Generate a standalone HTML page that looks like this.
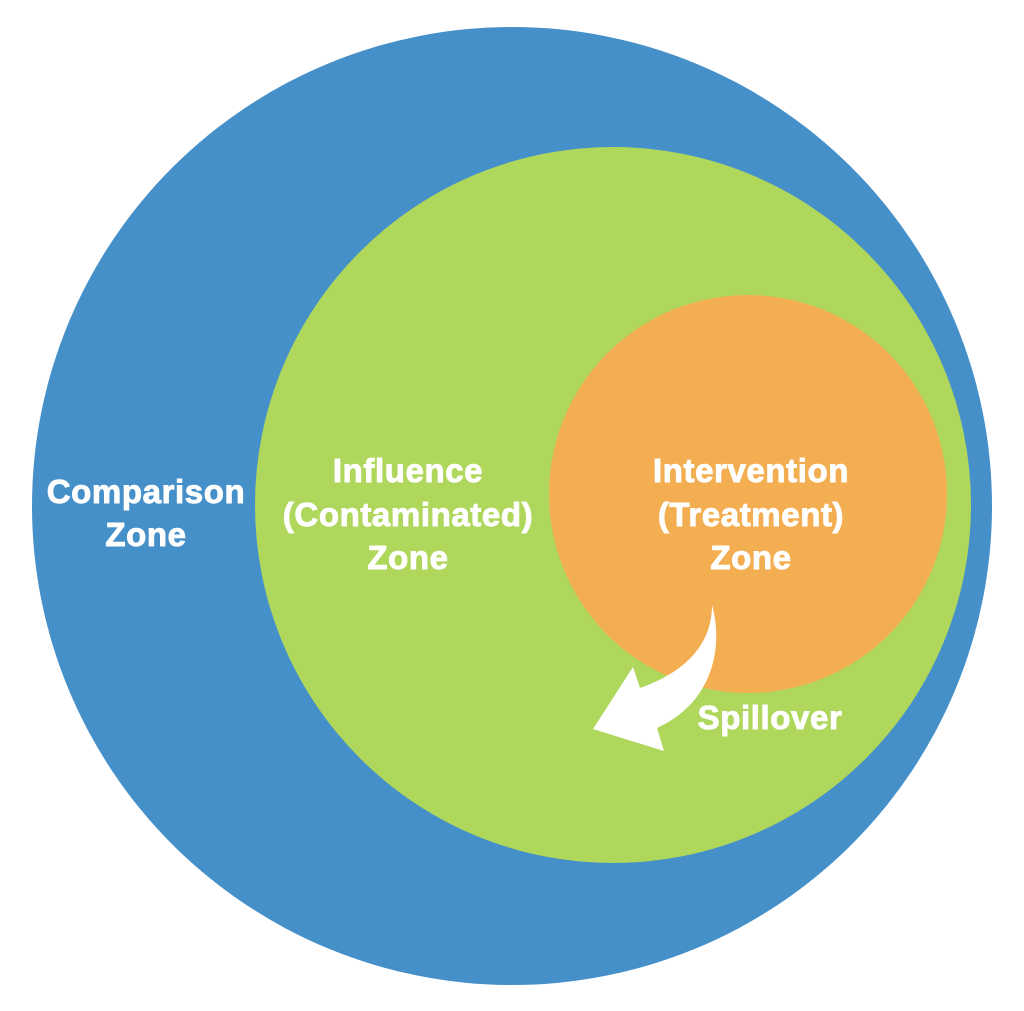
<!DOCTYPE html>
<html><head><meta charset="utf-8"><style>
html,body{margin:0;padding:0;background:#fff;}
svg{display:block;}
text{font-family:"Liberation Sans",sans-serif;font-weight:bold;fill:#fff;stroke:#fff;stroke-width:0.9px;font-size:33px;text-anchor:middle;letter-spacing:0.6px;}
</style></head><body>
<svg width="1024" height="1011" viewBox="0 0 1024 1011">
<rect width="1024" height="1011" fill="#fff"/>
<ellipse cx="512" cy="506" rx="480" ry="479" fill="#4690ca"/>
<ellipse cx="613" cy="505" rx="358" ry="358" fill="#afd75c"/>
<circle cx="748" cy="494" r="199" fill="#f4ae52"/>
<path d="M712,605 C722,640 718,700 657,728 L664,751 L593,729 L633,667 L640,688 C685,672 712,645 712,605 Z" fill="#fff"/>
<text x="146" y="503">Comparison</text>
<text x="146" y="546">Zone</text>
<text x="408" y="482">Influence</text>
<text x="408" y="526">(Contaminated)</text>
<text x="408" y="569">Zone</text>
<text x="751" y="482">Intervention</text>
<text x="751" y="526">(Treatment)</text>
<text x="751" y="569">Zone</text>
<text x="770" y="729">Spillover</text>
</svg>
</body></html>
